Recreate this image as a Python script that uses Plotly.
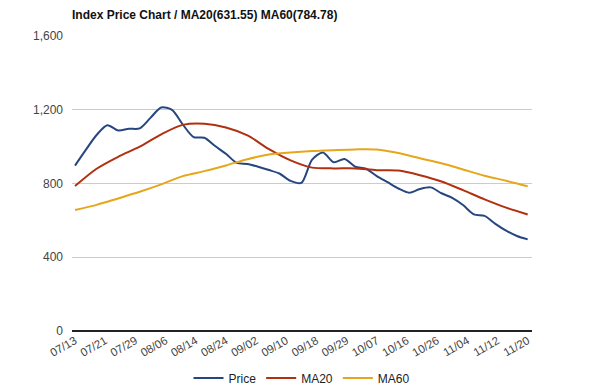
import plotly.graph_objects as go

# Trading-day index positions
tick_labels = ["07/13", "07/21", "07/29", "08/06", "08/14", "08/24", "09/02", "09/10",
               "09/18", "09/29", "10/07", "10/16", "10/26", "11/04", "11/12", "11/20"]
tick_idx = [k * 84 / 15 for k in range(16)]

price_idx = list(range(0, 85, 2))
price_vals = [897, 982, 1063, 1116, 1088, 1097, 1099, 1156, 1212, 1199,
              1120, 1052, 1048, 1003, 961, 912, 906, 891, 873, 853,
              814, 803, 930, 968, 915, 933, 891, 880, 840, 807,
              773, 750, 770, 779, 747, 722, 683, 633, 624, 581,
              544, 515, 497]

ma_idx = list(range(0, 85, 4))
ma20_vals = [786, 880, 945, 1000, 1067, 1118, 1124, 1104, 1061, 986, 925,
             886, 882, 882, 872, 870, 845, 811, 764, 714, 669, 632]
ma60_vals = [656, 684, 719, 755, 795, 840, 867, 898, 932, 957, 968,
             976, 981, 985, 984, 965, 937, 910, 876, 842, 815, 785]

fig = go.Figure()
fig.add_trace(go.Scatter(x=price_idx, y=price_vals, name="Price", mode="lines",
                         line=dict(color="#26467f", width=2, shape="spline", smoothing=0.8)))
fig.add_trace(go.Scatter(x=ma_idx, y=ma20_vals, name="MA20", mode="lines",
                         line=dict(color="#b0300f", width=2, shape="spline", smoothing=0.8)))
fig.add_trace(go.Scatter(x=ma_idx, y=ma60_vals, name="MA60", mode="lines",
                         line=dict(color="#e6a61c", width=2, shape="spline", smoothing=0.8)))

# page body has an 8px margin, so the layout is shifted by 8px in both directions
fig.update_layout(
    width=600, height=391,
    paper_bgcolor="white", plot_bgcolor="white",
    margin=dict(l=64, r=76, t=28, b=68, autoexpand=False),
    title=dict(text="<b>Index Price Chart / MA20(631.55) MA60(784.78)</b>",
               x=64/600, xanchor="left", y=1-7/391, yanchor="middle",
               font=dict(family="Liberation Sans, Arial", size=12, color="#111")),
    font=dict(family="Liberation Sans, Arial", color="#444"),
    showlegend=True,
    legend=dict(orientation="h", x=0.5, xanchor="center", y=-0.11, yanchor="top",
                font=dict(size=12, color="#222"), itemwidth=30, tracegroupgap=0),
    xaxis=dict(range=[-0.56, 84.8], tickmode="array", tickvals=tick_idx, ticktext=tick_labels,
               tickangle=-30, tickfont=dict(size=11.5, color="#444"), showgrid=False,
               zeroline=False, showline=False, ticks="", automargin=False),
    yaxis=dict(range=[0, 1600], tickmode="array", tickvals=[0, 400, 800, 1200, 1600],
               tickformat=",", tickfont=dict(size=12, color="#444"),
               showgrid=True, gridcolor="#cccccc", gridwidth=1,
               zeroline=True, zerolinecolor="#222", zerolinewidth=1.5, ticks="",
               ticklabelstandoff=8, automargin=False),
)

fig.write_html("out.html")
